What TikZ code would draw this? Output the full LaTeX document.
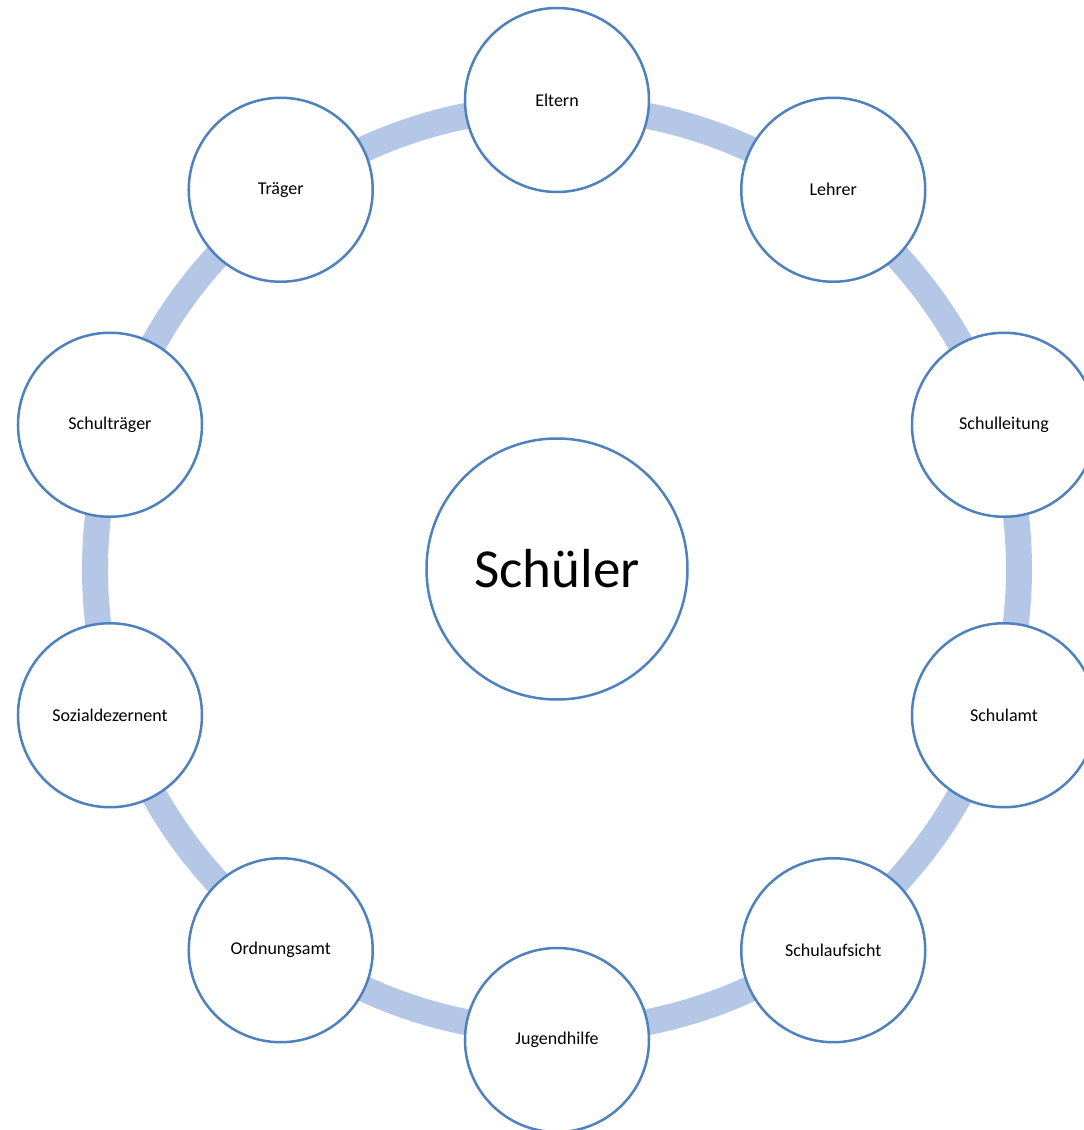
\documentclass[tikz,border=0pt]{standalone}
\usepackage{fontspec}
\setmainfont{Carlito}
\definecolor{ringblue}{HTML}{B4C7E7}
\definecolor{edgeblue}{HTML}{4F81BD}
\begin{document}
\begin{tikzpicture}[x=1pt,y=1pt,
  outer/.style={circle,draw=edgeblue,line width=2.5pt,fill=white,minimum size=184pt,inner sep=0pt,font=\fontsize{18}{22}\selectfont},
  hub/.style={circle,draw=edgeblue,line width=2.5pt,fill=white,minimum size=261pt,inner sep=0pt,font=\fontsize{55}{64}\selectfont},
  ring/.style={draw=ringblue,line width=26pt}]
\useasboundingbox (-557,-560) rectangle (527,570);
\clip (-557,-560) rectangle (527,570);
\fill[white] (-557,-560) rectangle (527,570);
\coordinate (c) at (0,1);
\draw[ring] (c) circle[radius=462];
\node[hub] (schueler) at (c) {Schüler};
\node[outer] (eltern) at (90:470) {Eltern};
\node[outer] (lehrer) at (54:470) {Lehrer};
\node[outer] (schulleitung) at (18:470) {Schulleitung};
\node[outer] (schulamt) at (-18:470) {Schulamt};
\node[outer] (schulaufsicht) at (-54:470) {Schulaufsicht};
\node[outer] (jugendhilfe) at (-90:470) {Jugendhilfe};
\node[outer] (ordnungsamt) at (-126:470) {Ordnungsamt};
\node[outer] (sozial) at (-162:470) {Sozialdezernent};
\node[outer] (schultraeger) at (162:470) {Schulträger};
\node[outer] (traeger) at (126:470) {Träger};
\end{tikzpicture}
\end{document}
